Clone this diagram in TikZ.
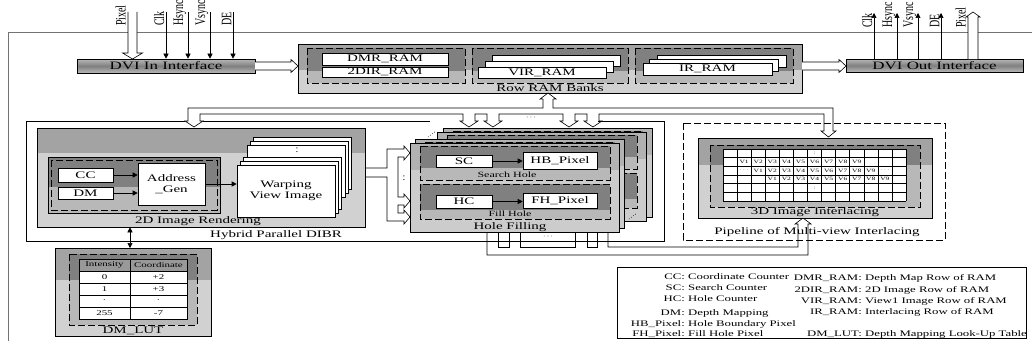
\documentclass[tikz,border=0pt]{standalone}
\usepackage{fontspec}
\setmainfont{Liberation Serif}
\newfontfamily\rotfont{Liberation Serif}
\usepackage{graphicx}
\usetikzlibrary{arrows.meta}
\definecolor{frameC}{gray}{0.45}
\definecolor{oT}{gray}{0.64}
\definecolor{oB}{gray}{0.82}
\definecolor{iT}{gray}{0.5}
\definecolor{iB}{gray}{0.72}
\definecolor{hT}{gray}{0.7}
\definecolor{hB}{gray}{0.8}
\definecolor{dviL}{gray}{0.72}
\definecolor{dviD}{gray}{0.5}
\definecolor{hdr}{gray}{0.6}
\newcommand\sx[1]{\scalebox{1.5}[1]{#1}}
\tikzset{
 ln/.style={line width=0.6pt},
 wbox/.style={draw, fill=white, line width=0.6pt, inner sep=0pt, font=\fontsize{10}{11}\selectfont},
 dvi/.style={draw, line width=0.6pt, top color=dviL, bottom color=dviL, middle color=dviD, inner sep=0pt, font=\fontsize{11.3}{12}\selectfont},
 arr/.style={line width=0.6pt, -{Triangle[length=5pt,width=5pt]}},
 lbl/.style={inner sep=0pt, font=\fontsize{10}{11}\selectfont},
 small/.style={inner sep=0pt, font=\fontsize{8}{8}\selectfont},
 grid/.style={inner sep=0pt, font=\fontsize{5}{5}\selectfont},
 tab/.style={inner sep=0pt, font=\fontsize{7.3}{7.3}\selectfont},
 leg/.style={inner sep=0pt, font=\fontsize{8.5}{9}\selectfont},
 rotlbl/.style={rotate=90, anchor=south west, inner sep=0pt, font=\rotfont\fontsize{10}{10}\selectfont},
 dbox/.style={draw, line width=0.6pt, dash pattern=on 7pt off 3pt},
}
\newcommand\shadebox[7]{\fill[#6] (#1,#2) rectangle (#3,#5); \fill[#7] (#1,#5) rectangle (#3,#4);}
\newcommand\harrowR[6]{\draw[ln, fill=white] (#1,#3-#4) -- (#2-#6,#3-#4) -- (#2-#6,#3-#5) -- (#2,#3) -- (#2-#6,#3+#5) -- (#2-#6,#3+#4) -- (#1,#3+#4);}
\newcommand\harrowD[6]{\draw[ln, fill=white] (#1-#4,#2) -- (#1-#4,#3-#6) -- (#1-#5,#3-#6) -- (#1,#3) -- (#1+#5,#3-#6) -- (#1+#4,#3-#6) -- (#1+#4,#2);}
\newcommand\harrowU[6]{\draw[ln, fill=white] (#1-#4,#2) -- (#1-#4,#3+#6) -- (#1-#5,#3+#6) -- (#1,#3) -- (#1+#5,#3+#6) -- (#1+#4,#3+#6) -- (#1+#4,#2);}
\newcommand\rnode[7]{\node[#6, minimum width={((#4)-(#2))*1pt}, minimum height={((#5)-(#3))*1pt}] (#1) at ({((#2)+(#4))/2},{((#3)+(#5))/2}) {#7};}
\newcommand\hflayer[2]{%
 \shadebox{410+#1}{143-#2}{619+#1}{232-#2}{170-#2}{hT}{hB}
 \draw[ln] (410+#1,143-#2) rectangle (619+#1,232-#2);
 \shadebox{420+#1}{146-#2}{610+#1}{180-#2}{168-#2}{iT}{iB}
 \draw[dbox] (420+#1,146-#2) rectangle (610+#1,180-#2);
 \shadebox{420+#1}{184-#2}{610+#1}{219-#2}{210-#2}{iT}{iB}
 \draw[dbox] (420+#1,184-#2) rectangle (610+#1,219-#2);}
\begin{document}
\begin{tikzpicture}[x=1pt,y=-1pt]
\useasboundingbox (0,0) rectangle (1032,345);
% frame
\draw[frameC, line width=0.9pt] (8,341) -- (8,32) -- (1032,32);
% DVI In
\rnode{dviin}{77}{59}{255}{73}{dvi}{\sx{DVI In Interface}}
\foreach \x/\t in {166/Clk,188/Hsync,210/Vsync,233/DE}{
  \coordinate (s\t) at (\x,12);
  \draw[arr] (s\t) -- (s\t |- dviin.north);
  \node[rotlbl] (l\t) at (\x-1.5,26) {\scalebox{1}[1.45]{\t}};
}
\harrowD{132.5}{12}{59}{4.5}{10}{6}
\node[rotlbl] (lPixel) at (126,26) {\scalebox{1}[1.45]{Pixel}};
\harrowR{255}{298}{66}{4}{6.5}{7}
% Row RAM Banks
\shadebox{298}{44}{802}{93}{70}{oT}{oB}
\rnode{rowram}{298}{44}{802}{93}{draw, line width=0.6pt}{}
\node[lbl] (rowramlbl) at (550,88) {\sx{Row RAM Banks}};
\foreach \a/\b in {307/465,472/628,635/793}{\shadebox{\a}{48}{\b}{83}{71}{iT}{iB} \draw[dbox] (\a,48) rectangle (\b,83);}
\rnode{dmr}{322}{53}{448}{65}{wbox}{\sx{DMR\_RAM}}
\rnode{tdir}{322}{67}{448}{77}{wbox}{\sx{2DIR\_RAM}}
\rnode{vir3}{492}{55}{620}{66}{wbox}{}
\rnode{vir2}{485}{61}{613}{72}{wbox}{}
\rnode{vir}{478}{67}{606}{78}{wbox}{\sx{VIR\_RAM}}
\rnode{ir3}{657}{55}{786}{67}{wbox}{}
\rnode{ir2}{649}{59}{778}{71}{wbox}{}
\rnode{ir}{643}{63}{772}{75}{wbox}{\sx{IR\_RAM}}
\harrowR{802}{846}{66}{4}{6.5}{7}
% DVI Out
\rnode{dviout}{846}{59}{1023}{72}{dvi}{\sx{DVI Out Interface}}
\foreach \x/\t in {874/Clk,897/Hsync,918/Vsync,941/DE}{
  \coordinate (o\t) at (\x,13);
  \draw[arr] (o\t |- dviout.north) -- (o\t);
  \node[rotlbl] (m\t) at (\x-1.5,28) {\scalebox{1}[1.45]{\t}};
}
\harrowU{973}{59}{12}{5}{7}{5}
\node[rotlbl] (mPixel) at (966,28) {\scalebox{1}[1.45]{Pixel}};
% Hybrid box
\draw[ln] (185,121) -- (26,121) -- (26,241) -- (664,241) -- (664,121) -- (598,121);
\draw[ln] (203,121) -- (430,121);
\node[lbl] (hyblbl) at (276,235) {\sx{Hybrid Parallel DIBR}};
% pipe from Row RAM
\draw[ln] (543,99) -- (540,99) -- (548,93) -- (556,99) -- (553,99);
\draw[ln] (543,99) -- (543,108) -- (188,108) -- (188,121) -- (185,121) -- (194,127) -- (203,121) -- (200,121) -- (200,114)
 -- (463,114) -- (463,121) -- (460,121) -- (469,127) -- (478,121) -- (475,121) -- (475,114)
 -- (487,114) -- (487,121) -- (484,121) -- (493,127) -- (502,121) -- (499,121) -- (499,114)
 -- (563,114) -- (563,121) -- (560,121) -- (569,127) -- (578,121) -- (575,121) -- (575,114)
 -- (587,114) -- (587,121) -- (584,121) -- (593,127) -- (602,121) -- (599,121) -- (599,114)
 -- (824,114) -- (824,131) -- (821,131) -- (828.5,137) -- (836,131) -- (833,131) -- (833,108) -- (553,108) -- (553,99);
\node[small] (dotsT) at (531,118) {$\cdots$};
% 2D Image Rendering
\shadebox{37}{128}{365}{227}{153}{oT}{oB}
\rnode{render}{37}{128}{365}{227}{draw, line width=0.6pt}{}
\node[lbl] (renderlbl) at (198,221) {\sx{2D Image Rendering}};
\shadebox{48}{157}{220}{213}{187}{iT}{iB}
\draw[ln] (48,157) rectangle (220,213);
\draw[dbox] (51,160) rectangle (217,210);
\rnode{cc}{58}{168}{113}{182}{wbox}{\sx{CC}}
\rnode{dm}{58}{187}{113}{199}{wbox}{\sx{DM}}
\rnode{agen}{138}{163}{205}{205}{wbox, align=center}{\sx{Address}\\\sx{\_Gen}}
\draw[arr] (cc.east) -- (cc.east -| agen.west);
\draw[arr] (dm.east) -- (dm.east -| agen.west);
\foreach \dx/\dy [count=\i] in {16/-28,13/-24,10/-20,6/-8,3/-4}{\rnode{warp\i}{237+\dx}{165+\dy}{335+\dx}{217+\dy}{wbox}{}}
\node[lbl] (wdots) at (297,150) {:};
\rnode{warp}{237}{165}{335}{217}{wbox, align=center}{\sx{Warping}\\\sx{View Image}}
\draw[arr] (agen.east) -- (agen.east -| warp.west);
% bus to hole filling
\draw[ln] (365,168) -- (387,168) -- (387,149) -- (404,149) -- (404,146) -- (410,153) -- (404,160) -- (404,157) -- (398,157) -- (398,197) -- (404,197) -- (404,194) -- (410,201) -- (404,208) -- (404,205) -- (398,205) -- (398,213) -- (404,213) -- (404,210) -- (410,217) -- (404,224) -- (404,221) -- (387,221) -- (387,177) -- (365,177);
\node[lbl] (bdots) at (404,178) {:};
% Hole filling stack
\hflayer{33}{15}
\hflayer{27}{11}
\hflayer{5}{4}
\hflayer{0}{0}
\draw[ln, dotted] (428,137) -- (436,131);
\draw[ln, dotted] (629,219) -- (637,213);
\rnode{sc}{436}{155}{492}{167}{wbox}{\sx{SC}}
\rnode{hb}{523}{152}{597}{169}{wbox}{\sx{HB\_Pixel}}
\draw[arr] (sc.east) -- (sc.east -| hb.west);
\node[small] (shlbl) at (507,175) {\sx{Search Hole}};
\rnode{hc}{436}{195}{492}{208}{wbox}{\sx{HC}}
\rnode{fh}{523}{193}{597}{208}{wbox}{\sx{FH\_Pixel}}
\draw[arr] (hc.east) -- (hc.east -| fh.west);
\node[small] (fhlbl) at (510,214) {\sx{Fill Hole}};
\node[lbl] (hflbl) at (510,227) {\sx{Hole Filling}};
% bottom bus
\draw[ln] (487,232) -- (487,255) -- (808,255) -- (808,224) -- (811,224) -- (803,218) -- (795,224) -- (798,224) -- (798,247) -- (608,247) -- (608,232);
\draw[ln] (498,232) -- (498,247) -- (509,247) -- (509,232);
\draw[ln] (520,232) -- (520,247) -- (575,247) -- (575,232);
\draw[ln] (587,232) -- (587,247) -- (597,247) -- (597,232);
\node[small] (dotsB) at (548,237) {$\cdots$};
% Pipeline interlacing
\draw[dbox] (683,123) rectangle (945,240);
\node[lbl] (pipelbl) at (817,232) {\sx{Pipeline of Multi-view Interlacing}};
\shadebox{698}{138}{932}{218}{165}{oT}{oB}
\rnode{inter}{698}{138}{932}{218}{draw, line width=0.6pt}{}
\shadebox{710}{145}{920}{207}{165}{iT}{iB}
\draw[dbox] (710,145) rectangle (920,207);
\fill[white] (723,149) rectangle (906,201);
\foreach \i in {0,...,13}{\draw[line width=0.5pt] (723+\i*14.077,149) -- (723+\i*14.077,201);}
\foreach \j in {0,...,6}{\draw[line width=0.5pt] (723,149+\j*8.667) -- (906,149+\j*8.667);}
\foreach \r in {1,2,3}{\foreach \k in {1,...,9}{\node[grid] at ({723+14.077*(\r+\k-0.5)},{149+8.667*(\r+0.5)}) {\sx{V\k}};}}
\node[grid] (g1) at ({723+14.077*6.5},{149+8.667*0.5}) {:};
\node[grid] (g2) at ({723+14.077*6.5},{149+8.667*4.5}) {:};
\node[grid] (g3) at ({723+14.077*1.5},{149+8.667*2.5}) {$\cdots$};
\node[grid] (g4) at ({723+14.077*11.5},{149+8.667*2.5}) {$\cdots$};
\node[lbl] (interlbl) at (815,212) {\sx{3D Image Interlacing}};
% DM LUT
\shadebox{55}{248}{211}{336}{280}{oT}{oB}
\rnode{lut}{55}{248}{211}{336}{draw, line width=0.6pt}{}
\shadebox{69}{254}{197}{325}{280}{iT}{iB}
\draw[dbox] (69,254) rectangle (197,325);
\coordinate (lutc) at (130,248);
\draw[line width=0.6pt, {Triangle[length=5pt,width=5pt]}-{Triangle[length=5pt,width=5pt]}] (lutc) -- (lutc |- render.south);
\fill[hdr] (79,259) rectangle (187,271);
\fill[white] (79,271) rectangle (187,319);
\draw[line width=0.8pt] (79,259) rectangle (187,319);
\foreach \y in {271,283,295,307}{\draw[ln] (79,\y) -- (187,\y);}
\draw[ln] (130,259) -- (130,319);
\node[tab] (t1) at (104.5,265) {\sx{Intensity}};
\node[tab] (t2) at (158.5,265) {\sx{Coordinate}};
\foreach \a/\b/\y in {0/+2/277,1/+3/289,·/·/301,255/-7/313}{\node[tab] at (104.5,\y) {\sx{\a}}; \node[tab] at (158.5,\y) {\sx{\b}};}
\node[lbl] (lutlbl) at (133,331) {\sx{DM\_LUT}};
% legend
\rnode{legend}{617}{267}{1026}{338}{draw, line width=0.6pt}{}
\foreach \a/\b/\y in {CC/Coordinate Counter/279,SC/Search Counter/290,HC/Hole Counter/301,DM/Depth Mapping/315,HB\_Pixel/Hole Boundary Pixel/326,FH\_Pixel/Fill Hole Pixel/336}{
  \node[leg, anchor=base east] at (685,\y) {\sx{\a:}};
  \node[leg, anchor=base west] at (688,\y) {\sx{\b}};
}
\foreach \a/\b/\y in {DMR\_RAM/Depth Map Row of RAM/280,2DIR\_RAM/2D Image Row of RAM/292,VIR\_RAM/View1 Image Row of RAM/303,IR\_RAM/Interlacing Row of RAM/314,DM\_LUT/Depth Mapping Look-Up Table/336}{
  \node[leg, anchor=base east] at (862,\y) {\sx{\a:}};
  \node[leg, anchor=base west] at (865,\y) {\sx{\b}};
}
\end{tikzpicture}
\end{document}
